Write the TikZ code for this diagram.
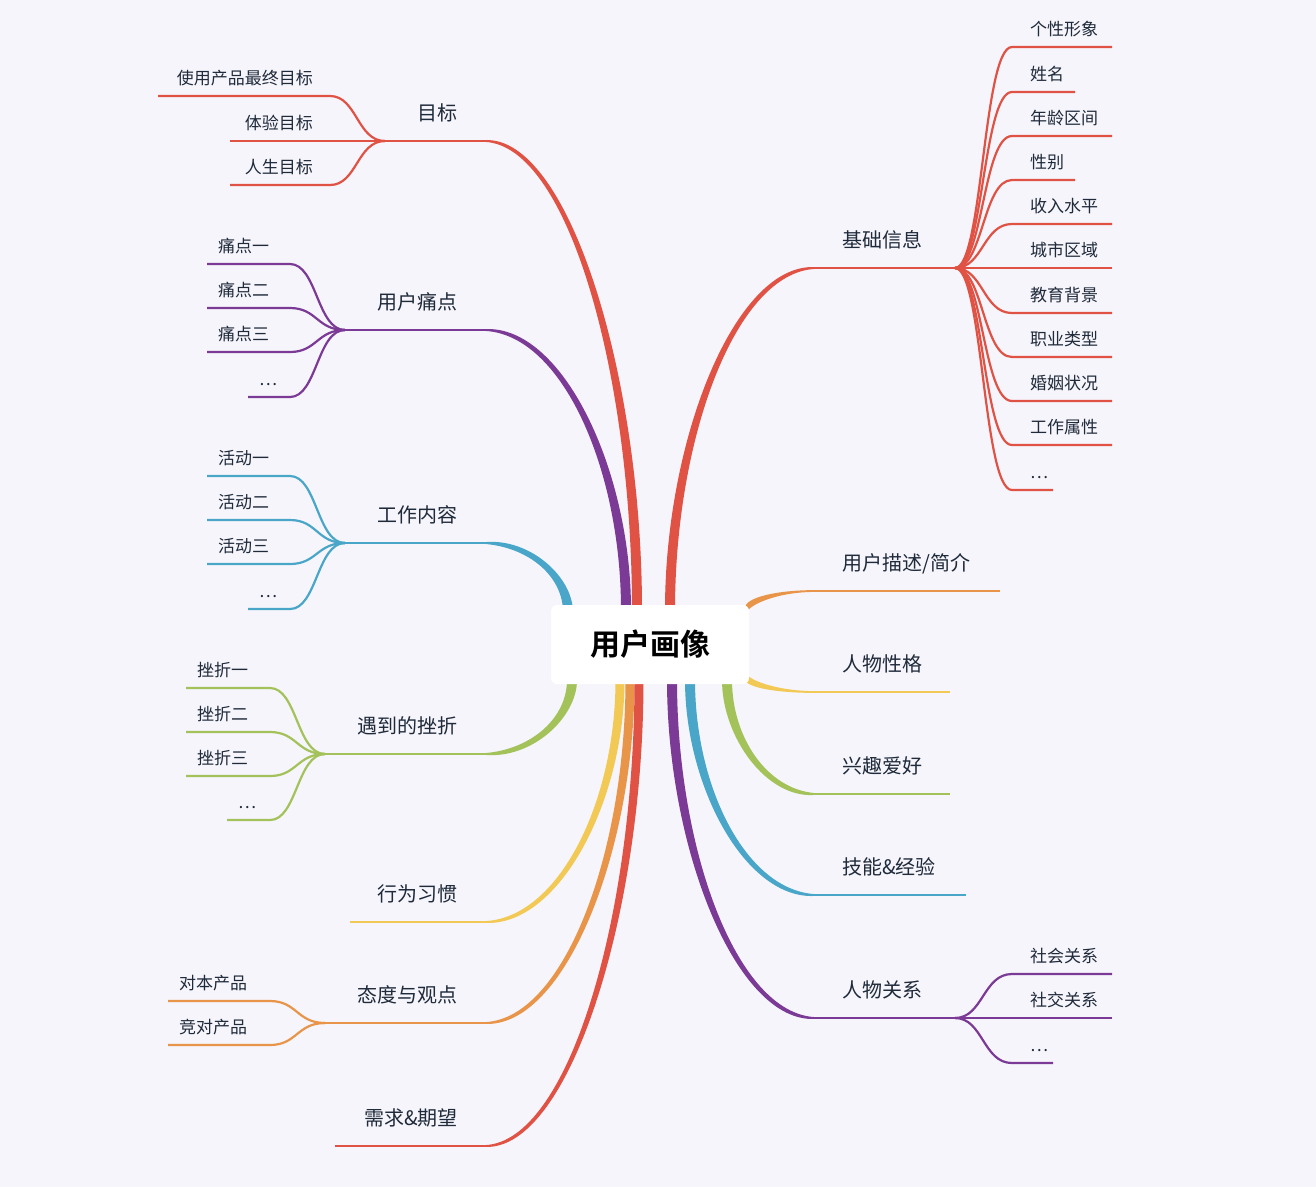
\documentclass[tikz,border=0pt]{standalone}
\usepackage{fontspec}
\setmainfont{Noto Sans CJK SC}[BoldFont={Noto Sans CJK SC Bold}]
\definecolor{bg}{HTML}{F6F5FB}
\definecolor{cred}{HTML}{E05244}
\definecolor{cpur}{HTML}{7B3A96}
\definecolor{cblue}{HTML}{4AA6C9}
\definecolor{cgreen}{HTML}{A3C25A}
\definecolor{cyel}{HTML}{F2C955}
\definecolor{corg}{HTML}{E8954A}
\definecolor{ctxt}{HTML}{1F2A3A}
% tapered branch: color, sx, sy, ex, ey, wx, wy
\newcommand\mybranch[7]{%
  \pgfmathsetmacro\cax{#4+0.55*(#2-#4)}%
  \pgfmathsetmacro\cbx{#2}%
  \pgfmathsetmacro\cby{#5+0.5*(#3-#5)}%
  \pgfmathsetmacro\kk{0.8*#6}%
  \pgfmathsetmacro\ww{#6*sign(#3-#5)*sign(#2-#4)}%
  \fill[#1] (#4,#5-0.9) .. controls (\cax,#5-0.9-\kk) and (\cbx+\ww,\cby-#7) .. (#2+\ww,#3-#7)
     -- (#2-\ww,#3+#7) .. controls (\cbx-\ww,\cby+#7) and (\cax,#5+0.9+\kk) .. (#4,#5+0.9) -- cycle;}
\tikzset{
  sub/.style={font=\fontsize{17}{20}\selectfont, text=ctxt, inner sep=0pt},
  lbl/.style={font=\fontsize{20}{24}\selectfont, text=ctxt, inner sep=0pt},
  uline/.style={line width=2.2pt},
}
\newcommand\lsub[6]{%
  \draw[uline,#1] (#2,#3) .. controls (#2-28,#3) and (#2-28,#4) .. (#2-55,#4) -- (#5,#4);
  \node[sub,anchor=base west] (s#2#4) at (#5+11,#4-12) {#6};}
\newcommand\rsub[6]{%
  \draw[uline,#1] (#2,#3) .. controls (#2+28,#3) and (#2+28,#4) .. (#2+57,#4) -- (#5,#4);
  \node[sub,anchor=base west] (s#2#4) at (#2+75,#4-12) {#6};}
\begin{document}
\begin{tikzpicture}[x=1pt,y=-1pt]
\useasboundingbox (0,0) rectangle (1316,1187);
\fill[bg] (0,0) rectangle (1316,1187);
\mybranch{cred}{637}{610}{485}{141}{5}{0}
\mybranch{cpur}{626}{610}{485}{330}{5}{0}
\mybranch{cblue}{568}{612}{485}{543}{5}{0}
\mybranch{cgreen}{572}{680}{485}{754}{5}{0}
\mybranch{cyel}{620}{680}{485}{922}{4.5}{0}
\mybranch{corg}{630}{680}{485}{1023}{4.5}{0}
\mybranch{cred}{639}{680}{485}{1146}{4.5}{0}
\mybranch{cred}{670}{610}{815}{268}{5}{0}
\mybranch{corg}{745}{612}{815}{591}{0}{4}
\mybranch{cyel}{745}{675}{815}{692}{0}{4}
\mybranch{cgreen}{727}{680}{815}{794}{5}{0}
\mybranch{cblue}{690}{680}{815}{895}{5}{0}
\mybranch{cpur}{672}{680}{815}{1018}{5}{0}
\draw[uline,cred] (385,141) -- (485,141); \node[lbl,anchor=base east] (b1) at (458,120) {目标};
\draw[uline,cpur] (345,330) -- (485,330); \node[lbl,anchor=base east] (b2) at (458,309) {用户痛点};
\draw[uline,cblue] (345,543) -- (485,543); \node[lbl,anchor=base east] (b3) at (458,522) {工作内容};
\draw[uline,cgreen] (325,754) -- (485,754); \node[lbl,anchor=base east] (b4) at (458,733) {遇到的挫折};
\draw[uline,cyel] (350,922) -- (485,922); \node[lbl,anchor=base east] (b5) at (458,901) {行为习惯};
\draw[uline,corg] (325,1023) -- (485,1023); \node[lbl,anchor=base east] (b6) at (458,1002) {态度与观点};
\draw[uline,cred] (335,1146) -- (485,1146); \node[lbl,anchor=base east] (b7) at (458,1125) {需求\&期望};
\draw[uline,cred] (815,268) -- (955,268); \node[lbl,anchor=base west] (b8) at (842,247) {基础信息};
\draw[uline,corg] (815,591) -- (1000,591); \node[lbl,anchor=base west] (b9) at (842,570) {用户描述/简介};
\draw[uline,cyel] (815,692) -- (950,692); \node[lbl,anchor=base west] (b10) at (842,671) {人物性格};
\draw[uline,cgreen] (815,794) -- (950,794); \node[lbl,anchor=base west] (b11) at (842,773) {兴趣爱好};
\draw[uline,cblue] (815,895) -- (966,895); \node[lbl,anchor=base west] (b12) at (842,874) {技能\&经验};
\draw[uline,cpur] (815,1018) -- (955,1018); \node[lbl,anchor=base west] (b13) at (842,997) {人物关系};
\lsub{cred}{385}{141}{96}{158}{}
\node[sub,anchor=base east] (g1) at (313,84) {使用产品最终目标};
\draw[uline,cred] (385,141) -- (230,141); \node[sub,anchor=base east] (g2) at (313,129) {体验目标};
\lsub{cred}{385}{141}{185}{230}{}
\node[sub,anchor=base east] (g3) at (313,173) {人生目标};
\lsub{cpur}{345}{330}{264}{207}{痛点一}
\lsub{cpur}{345}{330}{308}{207}{痛点二}
\lsub{cpur}{345}{330}{352}{207}{痛点三}
\lsub{cpur}{345}{330}{397}{248}{…}
\lsub{cblue}{345}{543}{476}{207}{活动一}
\lsub{cblue}{345}{543}{520}{207}{活动二}
\lsub{cblue}{345}{543}{564}{207}{活动三}
\lsub{cblue}{345}{543}{609}{248}{…}
\lsub{cgreen}{325}{754}{688}{186}{挫折一}
\lsub{cgreen}{325}{754}{732}{186}{挫折二}
\lsub{cgreen}{325}{754}{776}{186}{挫折三}
\lsub{cgreen}{325}{754}{820}{227}{…}
\lsub{corg}{325}{1023}{1001}{168}{对本产品}
\lsub{corg}{325}{1023}{1045}{168}{竞对产品}
\rsub{cred}{955}{268}{47}{1112}{个性形象}
\rsub{cred}{955}{268}{92}{1075}{姓名}
\rsub{cred}{955}{268}{136}{1112}{年龄区间}
\rsub{cred}{955}{268}{180}{1075}{性别}
\rsub{cred}{955}{268}{224}{1112}{收入水平}
\rsub{cred}{955}{268}{268}{1112}{城市区域}
\rsub{cred}{955}{268}{313}{1112}{教育背景}
\rsub{cred}{955}{268}{357}{1112}{职业类型}
\rsub{cred}{955}{268}{401}{1112}{婚姻状况}
\rsub{cred}{955}{268}{445}{1112}{工作属性}
\rsub{cred}{955}{268}{490}{1053}{…}
\rsub{cpur}{955}{1018}{974}{1112}{社会关系}
\rsub{cpur}{955}{1018}{1018}{1112}{社交关系}
\rsub{cpur}{955}{1018}{1063}{1053}{…}
\node[fill=white, rounded corners=6pt, minimum width=198pt, minimum height=79pt,
  font=\bfseries\fontsize{30}{34}\selectfont, text=black] (c) at (650,644.5) {用户画像};
\end{tikzpicture}
\end{document}
